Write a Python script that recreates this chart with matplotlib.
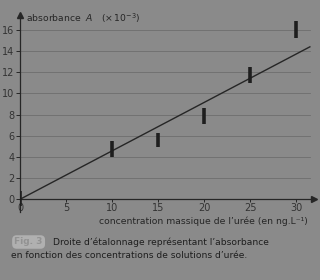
import matplotlib
matplotlib.use("Agg")
from matplotlib import pyplot as plt

# concentrations (ng/L) and absorbance ranges (x 10^-3)
conc = [0, 10, 15, 20, 25, 30]
abs_low = [-0.6, 4.0, 4.9, 7.1, 11.0, 15.2]
abs_high = [0.8, 5.5, 6.3, 8.6, 12.5, 16.8]

# calibration line end points
line_x = [0, 31.5]
line_y = [0, 14.4]

x_ticks = [0, 5, 10, 15, 20, 25, 30]
y_ticks = [0, 2, 4, 6, 8, 10, 12, 14, 16]

bg = "#8a8a8a"
ink = "#262626"

fig = plt.figure(figsize=(3.2, 2.8), dpi=100, facecolor=bg)
ax = fig.add_axes([20 / 320, 1 - 212 / 280, 300 / 320, 198 / 280])
ax.set_facecolor(bg)

ax.set_xlim(0, 32.6)
ax.set_ylim(-1.2, 17.5)

# horizontal grid
for y in y_ticks[1:]:
    ax.plot([0, 31.5], [y, y], color="#6e6e6e", lw=0.6, zorder=1)

ax.plot(line_x, line_y, color=ink, lw=1.0, zorder=3)
ax.vlines(conc, abs_low, abs_high, color="#1e1e1e", lw=2.6, zorder=4)

for s in ["top", "right"]:
    ax.spines[s].set_visible(False)
ax.spines["left"].set_position(("data", 0))
ax.spines["bottom"].set_position(("data", 0))
ax.spines["left"].set_color(ink)
ax.spines["bottom"].set_color(ink)
ax.spines["left"].set_linewidth(0.9)
ax.spines["bottom"].set_linewidth(0.9)
ax.spines["left"].set_bounds(-1.2, 17.3)
ax.spines["bottom"].set_bounds(0, 31.8)

# arrow heads
ax.plot(32.0, 0, marker=">", color=ink, markersize=4, clip_on=False)
ax.plot(0, 17.4, marker="^", color=ink, markersize=4, clip_on=False)

ax.set_xticks(x_ticks)
ax.set_yticks(y_ticks)
ax.tick_params(axis="both", colors=ink, labelsize=7, length=3, width=0.7, pad=1)
ax.tick_params(axis="x", direction="out", length=2, pad=0.5)
for lbl in ax.get_xticklabels() + ax.get_yticklabels():
    lbl.set_color("#333333")

ax.text(0.7, 17.1, "absorbance $\\ A$   $(\\times\\,10^{-3})$", fontsize=6.7,
        color=ink, va="center", ha="left")
ax.text(31.3, -2.05, "concentration massique de l\u2019urée (en ng.L\u207b\u00b9)",
        fontsize=6.7, color=ink, ha="right", va="center")

# caption
fig.text(0.045, 1 - 242 / 280, "Fig. 3", fontsize=6.5, color="#929292",
         fontweight="bold", va="center",
         bbox=dict(boxstyle="round,pad=0.25,rounding_size=0.5",
                   fc="#b0b0b0", ec="none"))
fig.text(0.165, 1 - 242 / 280,
         "Droite d\u2019étalonnage représentant l\u2019absorbance",
         fontsize=6.6, color="#1e1e1e", va="center")
fig.text(0.035, 1 - 256 / 280,
         "en fonction des concentrations de solutions d\u2019urée.",
         fontsize=6.6, color="#1e1e1e", va="center")

fig.savefig("out.png", dpi=100, facecolor=bg)
